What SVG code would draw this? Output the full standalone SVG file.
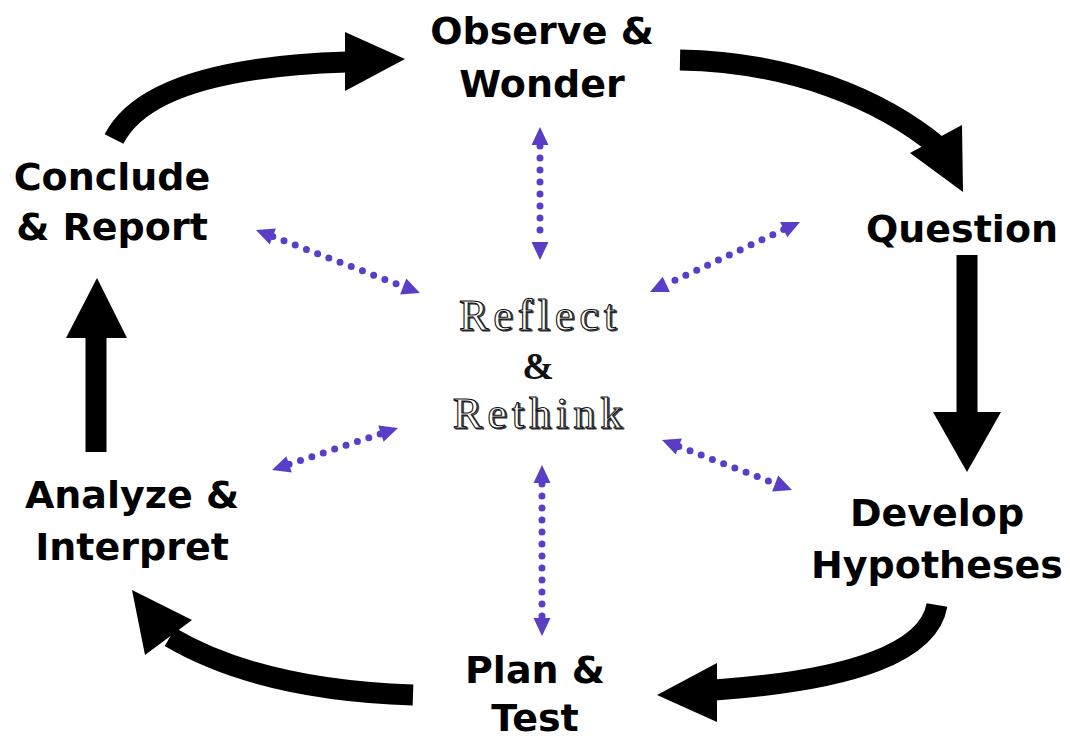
<svg xmlns="http://www.w3.org/2000/svg" xmlns:xlink="http://www.w3.org/1999/xlink" width="1070" height="738" viewBox="0 0 1070 738">
<defs>
<style>
.lbl{font-family:"DejaVu Sans",Verdana,sans-serif;font-weight:bold;font-size:38px;fill:#000;text-anchor:middle}
.ctr{font-family:"Liberation Serif","Times New Roman",serif;font-size:44px;text-anchor:middle;letter-spacing:5px}
.ctr-sh{fill:#555;stroke:#333;stroke-width:1}
.ctr-fg{fill:#fff;stroke:#111;stroke-width:1.1}
.amp{font-family:"Liberation Serif","Times New Roman",serif;font-weight:bold;font-size:38px;fill:#111;text-anchor:middle}
.shaft{fill:none;stroke:#000;stroke-width:21}
.head{fill:#000}
.dot{fill:none;stroke:#5a3ec8;stroke-width:7;stroke-linecap:round;stroke-dasharray:0 12}
.ph{fill:#5a3ec8}
</style>
<path id="tri" d="M0,0 L-18,-8.5 L-18,8.5 z"/>
</defs>
<rect width="1070" height="738" fill="#fff"/>
<g id="connectors">
<path class="shaft" d="M114,139 Q150,68 347,62"/>
<polygon class="head" points="345,32 405,59 345,91"/>
<path class="shaft" d="M680,60 C790,62 880,98 940,148"/>
<polygon class="head" points="910,153 962,125 963,192"/>
<path class="shaft" d="M967,255 L967,414"/>
<polygon class="head" points="933,412 1001,412 967,472"/>
<path class="shaft" d="M937,605 Q925,675 715,690"/>
<polygon class="head" points="717,663 657,695 717,722"/>
<path class="shaft" d="M413,695 Q260,690 170,637"/>
<polygon class="head" points="132,590 192,620 145,655"/>
<path class="shaft" d="M96,452 L96,336"/>
<polygon class="head" points="66,338 127,338 97,278"/>

<path class="dot" d="M540,146 L540,242"/>
<use class="ph" xlink:href="#tri" href="#tri" transform="translate(540,127) rotate(-90)"/>
<use class="ph" xlink:href="#tri" href="#tri" transform="translate(540,260) rotate(90)"/>

<path class="dot" d="M542,484 L542,618"/>
<use class="ph" xlink:href="#tri" href="#tri" transform="translate(542,465) rotate(-90)"/>
<use class="ph" xlink:href="#tri" href="#tri" transform="translate(542,636) rotate(90)"/>

<path class="dot" d="M272.8,236.5 L403.2,286.5"/>
<use class="ph" xlink:href="#tri" href="#tri" transform="translate(256,230) rotate(201)"/>
<use class="ph" xlink:href="#tri" href="#tri" transform="translate(420,293) rotate(21)"/>

<path class="dot" d="M783.7,229.6 L666.3,284.4"/>
<use class="ph" xlink:href="#tri" href="#tri" transform="translate(800,222) rotate(-25)"/>
<use class="ph" xlink:href="#tri" href="#tri" transform="translate(650,292) rotate(155)"/>

<path class="dot" d="M289.1,464.3 L380.9,433.7"/>
<use class="ph" xlink:href="#tri" href="#tri" transform="translate(272,470) rotate(161.6)"/>
<use class="ph" xlink:href="#tri" href="#tri" transform="translate(398,428) rotate(-18.4)"/>

<path class="dot" d="M678.8,446.5 L775.2,483.5"/>
<use class="ph" xlink:href="#tri" href="#tri" transform="translate(662,440) rotate(201)"/>
<use class="ph" xlink:href="#tri" href="#tri" transform="translate(792,490) rotate(21)"/>
</g>
<g id="observe"><text class="lbl" x="542" y="44">Observe &amp;</text><text class="lbl" x="542" y="97">Wonder</text></g>
<g id="question"><text class="lbl" x="962" y="242">Question</text></g>
<g id="develop"><text class="lbl" x="937" y="526">Develop</text><text class="lbl" x="937" y="578">Hypotheses</text></g>
<g id="plan"><text class="lbl" x="535" y="683">Plan &amp;</text><text class="lbl" x="535" y="731">Test</text></g>
<g id="analyze"><text class="lbl" x="132" y="508">Analyze &amp;</text><text class="lbl" x="132" y="560">Interpret</text></g>
<g id="conclude"><text class="lbl" x="112" y="190">Conclude</text><text class="lbl" x="112" y="240">&amp; Report</text></g>
<g id="reflect">
<text class="ctr ctr-sh" x="541.5" y="331">Reflect</text>
<text class="ctr ctr-fg" x="540" y="330">Reflect</text>
<text class="amp" x="538" y="379">&amp;</text>
<text class="ctr ctr-sh" x="541.5" y="429">Rethink</text>
<text class="ctr ctr-fg" x="540" y="428">Rethink</text>
</g>
</svg>
